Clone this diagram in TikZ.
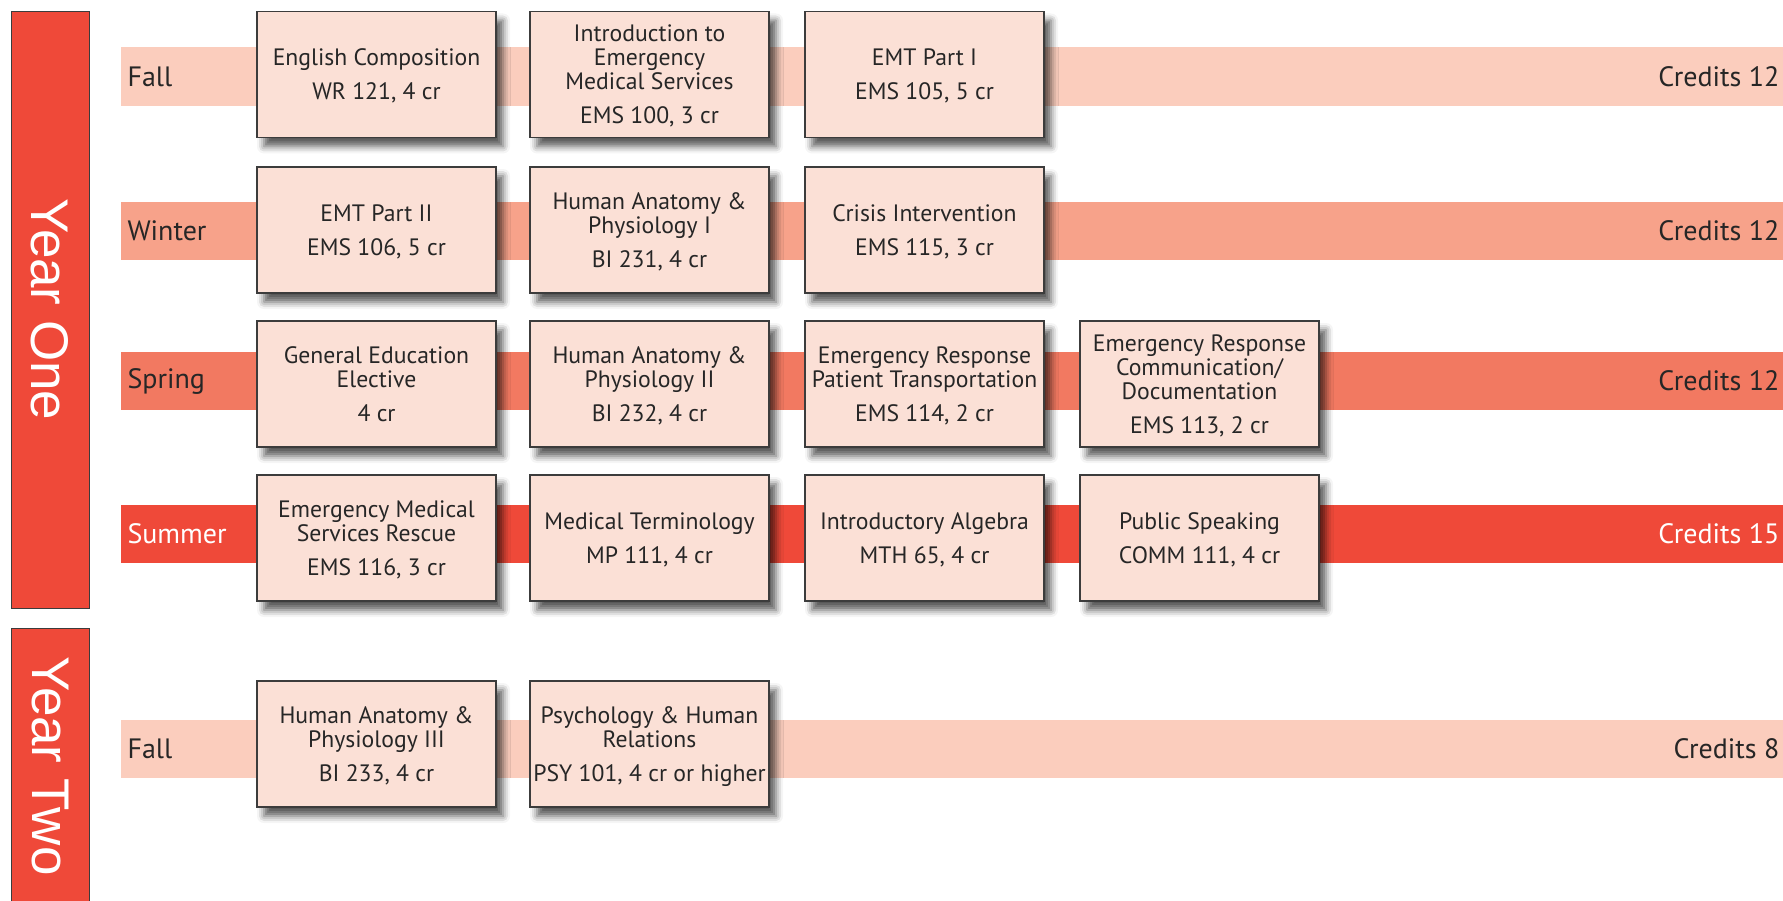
\documentclass[tikz,border=0pt]{standalone}
\usepackage{fontspec}
\setmainfont{PT Sans}
\newfontfamily\yearfont{Liberation Sans}
\usetikzlibrary{shadows.blur}

\definecolor{fallband}{HTML}{FBCDBD}
\definecolor{winterband}{HTML}{F7A28A}
\definecolor{springband}{HTML}{F27961}
\definecolor{summerband}{HTML}{EF4939}
\definecolor{yearred}{HTML}{EF4939}
\definecolor{boxfill}{HTML}{FBE0D6}
\definecolor{boxline}{HTML}{3C3C3C}
\definecolor{textdark}{HTML}{262626}

\begin{document}
\begin{tikzpicture}[x=1pt, y=-1pt, font=\fontsize{23.7}{24}\selectfont,
  course/.style={draw=boxline, line width=1.2pt, fill=boxfill, text=textdark,
    minimum width=239pt, minimum height=126pt, inner sep=0pt, align=center, text depth=0pt,
    blur shadow={shadow xshift=7pt, shadow yshift=-9pt, shadow blur radius=7pt, shadow opacity=65}},
  term/.style={anchor=west, font=\fontsize{28}{30}\selectfont, text=textdark},
  credits/.style={anchor=east, font=\fontsize{28}{30}\selectfont, text=textdark},
  yearbar/.style={draw=boxline, line width=0.8pt, fill=yearred, text=white,
    rotate=-90, minimum height=78pt, inner sep=0pt, font=\yearfont\fontsize{53}{53}\selectfont}]
  \useasboundingbox (0,0) rectangle (1783,901);

  % year labels
  \node[yearbar, minimum width=597pt] (yrone) at (50,309.5) {Year One};
  \node[yearbar, minimum width=276pt] (yrtwo) at (50,766) {Year Two};

  % term bands
  \fill[fallband]   (121,47)  rectangle (1783,106);
  \fill[winterband] (121,202) rectangle (1783,260);
  \fill[springband] (121,352) rectangle (1783,410);
  \fill[summerband] (121,505) rectangle (1783,563);
  \fill[fallband]   (121,720) rectangle (1783,778);

  \node[term] (fallone) at (124,76.5) {Fall};
  \node[term] (winter) at (124,231) {Winter};
  \node[term] (spring) at (124,381) {Spring};
  \node[term, text=white] (summer) at (124,534) {Summer};
  \node[term] (falltwo) at (124,749) {Fall};

  \node[credits] (crfallone) at (1783,76.5) {Credits 12};
  \node[credits] (crwinter) at (1783,231) {Credits 12};
  \node[credits] (crspring) at (1783,381) {Credits 12};
  \node[credits, text=white] (crsummer) at (1783,534) {Credits 15};
  \node[credits] (crfalltwo) at (1783,749) {Credits 8};

  % fall
  \node[course] (wr121) at (376.5,74.5) {English Composition\\[10pt]WR 121, 4 cr};
  \node[course] (ems100) at (649.5,74.5) {Introduction to\\Emergency\\Medical Services\\[10pt]EMS 100, 3 cr};
  \node[course] (ems105) at (924.5,74.5) {EMT Part I\\[10pt]EMS 105, 5 cr};

  % winter
  \node[course] (ems106) at (376.5,230) {EMT Part II\\[10pt]EMS 106, 5 cr};
  \node[course] (bi231) at (649.5,230) {Human Anatomy \&\\Physiology I\\[10pt]BI 231, 4 cr};
  \node[course] (ems115) at (924.5,230) {Crisis Intervention\\[10pt]EMS 115, 3 cr};

  % spring
  \node[course] (genelec) at (376.5,384) {General Education\\Elective\\[10pt]4 cr};
  \node[course] (bi232) at (649.5,384) {Human Anatomy \&\\Physiology II\\[10pt]BI 232, 4 cr};
  \node[course] (ems114) at (924.5,384) {Emergency Response\\Patient Transportation\\[10pt]EMS 114, 2 cr};
  \node[course] (ems113) at (1199.5,384) {Emergency Response\\Communication/\\Documentation\\[10pt]EMS 113, 2 cr};

  % summer
  \node[course] (ems116) at (376.5,538) {Emergency Medical\\Services Rescue\\[10pt]EMS 116, 3 cr};
  \node[course] (mp111) at (649.5,538) {Medical Terminology\\[10pt]MP 111, 4 cr};
  \node[course] (mth65) at (924.5,538) {Introductory Algebra\\[10pt]MTH 65, 4 cr};
  \node[course] (comm111) at (1199.5,538) {Public Speaking\\[10pt]COMM 111, 4 cr};

  % year two fall
  \node[course] (bi233) at (376.5,744) {Human Anatomy \&\\Physiology III\\[10pt]BI 233, 4 cr};
  \node[course] (psy101) at (649.5,744) {Psychology \& Human\\Relations\\[10pt]PSY 101, 4 cr or higher};
\end{tikzpicture}
\end{document}
